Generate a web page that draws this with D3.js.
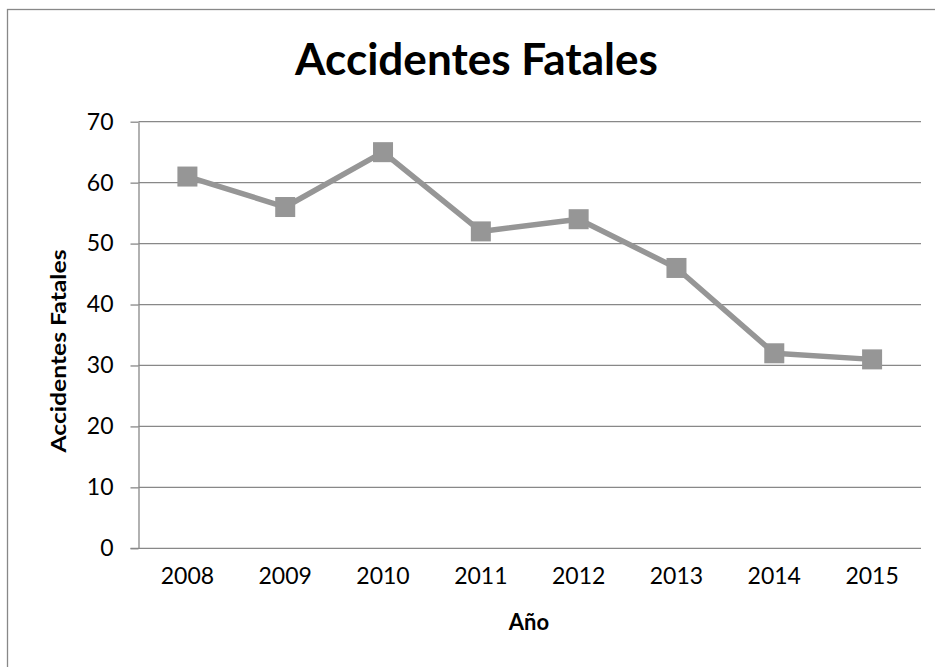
<!DOCTYPE html>
<html>
<head>
<meta charset="utf-8">
<script src="https://cdn.jsdelivr.net/npm/d3@7"></script>
<style>
  body { margin: 0; background: #fff; }
  svg text { font-family: Lato, "Open Sans", sans-serif; fill: #000; }
</style>
</head>
<body>
<svg id="chart" width="935" height="667"></svg>
<script>
var years = ["2008", "2009", "2010", "2011", "2012", "2013", "2014", "2015"];
var fatales = [61, 56, 65, 52, 54, 46, 32, 31];
var yTicks = [0, 10, 20, 30, 40, 50, 60, 70];

var data = years.map(function(d, i) { return {year: d, value: fatales[i]}; });

var svg = d3.select('#chart');
var plotLeft = 138.5, plotRight = 921, plotTop = 121.7, plotBottom = 548.3;
var gray = "#888888", lineColor = "#969696";

// chart frame (runs past the window on the right and bottom)
svg.append('rect')
    .attr('x', 7.5).attr('y', 9.5)
    .attr('width', 1000).attr('height', 1000)
    .attr('fill', 'none')
    .attr('stroke', gray)
    .attr('stroke-width', 1.3);

var xScale = d3.scaleBand().domain(years).range([plotLeft, plotRight]).padding(0);
var yScale = d3.scaleLinear().domain([0, 70]).range([plotBottom, plotTop]);

// horizontal gridlines
svg.append('g').selectAll('line').data(yTicks.slice(1))
    .enter().append('line')
        .attr('x1', plotLeft).attr('x2', plotRight)
        .attr('y1', function(d) { return yScale(d); })
        .attr('y2', function(d) { return yScale(d); })
        .attr('stroke', gray)
        .attr('stroke-width', 1.3);

var yAxis = svg.append('g')
    .attr('transform', 'translate(' + plotLeft + ',0)')
    .call(d3.axisLeft(yScale).tickValues(yTicks).tickSize(8).tickPadding(17).tickSizeOuter(0));
yAxis.select('.domain').attr('stroke', gray).attr('stroke-width', 1.3);
yAxis.selectAll('.tick line').attr('stroke', gray).attr('stroke-width', 1.3);
yAxis.selectAll('.tick text').style('font-size', '23px').attr('fill', '#000');

var xAxis = svg.append('g')
    .attr('transform', 'translate(0,' + plotBottom + ')')
    .call(d3.axisBottom(xScale).tickSize(0).tickPadding(19).tickSizeOuter(0));
xAxis.select('.domain').attr('stroke', gray).attr('stroke-width', 1.3)
    .attr('d', 'M' + (plotLeft - 8) + ',0H' + plotRight);
xAxis.selectAll('.tick text').style('font-size', '23px').attr('fill', '#000');

var line = d3.line()
    .x(function(d) { return xScale(d.year) + xScale.bandwidth() / 2; })
    .y(function(d) { return yScale(d.value); });

svg.append('path')
    .datum(data)
    .attr('d', line)
    .attr('fill', 'none')
    .attr('stroke', lineColor)
    .attr('stroke-width', 5.5)
    .attr('stroke-linejoin', 'round');

var m = 20;
svg.append('g').selectAll('rect').data(data)
    .enter().append('rect')
        .attr('x', function(d) { return xScale(d.year) + xScale.bandwidth() / 2 - m / 2; })
        .attr('y', function(d) { return yScale(d.value) - m / 2; })
        .attr('width', m).attr('height', m)
        .attr('fill', lineColor);

svg.append('text')
    .attr('x', 476.5).attr('y', 75)
    .attr('text-anchor', 'middle')
    .attr('textLength', 363).attr('lengthAdjust', 'spacingAndGlyphs')
    .style('font-size', '44px').style('font-weight', 'bold')
    .text('Accidentes Fatales');

svg.append('text')
    .attr('x', 529).attr('y', 630)
    .attr('text-anchor', 'middle')
    .style('font-size', '22px').style('font-weight', 'bold')
    .text('Año');

svg.append('text')
    .attr('transform', 'translate(66,351) rotate(-90)')
    .attr('text-anchor', 'middle')
    .attr('textLength', 203).attr('lengthAdjust', 'spacingAndGlyphs')
    .style('font-size', '21px').style('font-weight', 'bold')
    .text('Accidentes Fatales');
</script>
</body>
</html>
